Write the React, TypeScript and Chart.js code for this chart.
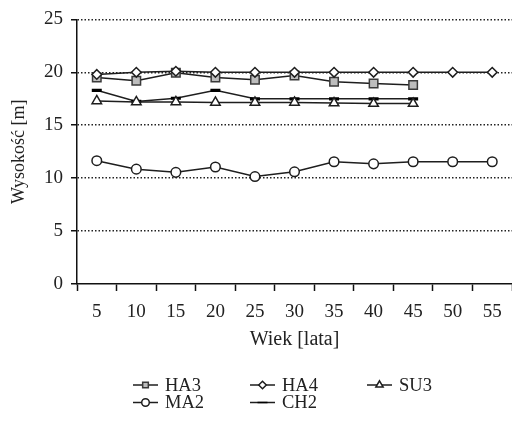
import React, { useEffect, useRef } from 'react';
import { Chart, registerables } from 'chart.js';
import { drawPoint } from 'chart.js/helpers';

Chart.register(...registerables);

const ageLabels = ['5', '10', '15', '20', '25', '30', '35', '40', '45', '50', '55'];
const seriesNames = ['HA3', 'HA4', 'SU3', 'MA2', 'CH2'];
const ha3 = [19.5, 19.2, 19.95, 19.5, 19.3, 19.7, 19.1, 18.95, 18.8];
const ha4 = [19.8, 20, 20.1, 20, 20, 20, 20, 20, 20, 20, 20];
const su3 = [17.3, 17.2, 17.2, 17.15, 17.15, 17.15, 17.1, 17.05, 17.05];
const ma2 = [11.65, 10.85, 10.55, 11.05, 10.15, 10.6, 11.55, 11.35, 11.55, 11.55, 11.55];
const ch2 = [18.3, 17.25, 17.55, 18.3, 17.5, 17.5, 17.5, 17.5, 17.5];

const xTitle = 'Wiek [lata]';
const yTitle = 'Wysokość [m]';

const FONT = "'Liberation Serif', 'Times New Roman', serif";
const TXT = '#222';
const LINE = '#1e1e1e';

const legendPlugin = {
  id: 'gridLegend',
  afterDraw(chart: any) {
    const ctx = chart.ctx;
    const ds = chart.data.datasets;
    const x0 = 133;
    const colW = 117;
    const y0 = 385;
    const rowH = 17.5;
    ctx.save();
    ds.forEach((d: any, i: number) => {
      const col = i % 3;
      const row = Math.floor(i / 3);
      const x = x0 + col * colW;
      const y = y0 + row * rowH;
      ctx.strokeStyle = LINE;
      ctx.lineWidth = 1.5;
      ctx.beginPath();
      ctx.moveTo(x, y);
      ctx.lineTo(x + 25, y);
      ctx.stroke();
      ctx.fillStyle = d.pointBackgroundColor;
      ctx.strokeStyle = d.pointBorderColor;
      drawPoint(ctx, {
        pointStyle: d.pointStyle,
        radius: d.legendRadius,
        borderWidth: d.pointBorderWidth,
        rotation: 0,
      }, x + 12.5, y);
      ctx.fillStyle = TXT;
      ctx.font = `18.5px ${FONT}`;
      ctx.textAlign = 'left';
      ctx.textBaseline = 'middle';
      ctx.fillText(d.label, x + 32, y + 1);
    });
    ctx.restore();
  },
};

export default function App() {
  const ref = useRef<HTMLCanvasElement>(null);
  useEffect(() => {
    if (!ref.current) return;
    const common = {
      borderColor: LINE,
      borderWidth: 1.5,
      pointBorderColor: LINE,
      pointBorderWidth: 1.5,
      tension: 0,
      fill: false,
    };
    const chart = new Chart(ref.current, {
      type: 'line',
      data: {
        labels: ageLabels,
        datasets: [
          { ...common, label: seriesNames[0], data: ha3, pointStyle: 'rect', pointRadius: 6, pointBackgroundColor: '#bdbdbd', pointBorderColor: '#3a3a3a', legendRadius: 4, order: 2 } as any,
          { ...common, label: seriesNames[1], data: ha4, pointStyle: 'rectRot', pointRadius: 4.8, pointBackgroundColor: '#fff', legendRadius: 3.8, order: 0 } as any,
          { ...common, label: seriesNames[2], data: su3, pointStyle: 'triangle', pointRadius: 5.5, pointBackgroundColor: '#fff', legendRadius: 4.2, order: 1 } as any,
          { ...common, label: seriesNames[3], data: ma2, pointStyle: 'circle', pointRadius: 4.8, pointBackgroundColor: '#fff', legendRadius: 3.8, order: 3 } as any,
          { ...common, label: seriesNames[4], data: ch2, pointStyle: 'line', pointRadius: 5, pointBorderWidth: 3.2, pointBackgroundColor: '#000', pointBorderColor: '#000', legendRadius: 5, order: 4 } as any,
        ],
      },
      options: {
        animation: false,
        responsive: false,
        layout: { autoPadding: false, padding: { top: 16, left: 0, right: -3, bottom: 67 } },
        plugins: {
          legend: { display: false },
          tooltip: { enabled: false },
        },
        scales: {
          x: {
            type: 'category',
            offset: true,
            afterFit: (s: any) => { s.height = 70; s.paddingLeft = 0; s.paddingRight = 0; },
            grid: { display: true, drawOnChartArea: false, drawTicks: true, tickLength: 7, tickColor: '#111', tickWidth: 1.5, offset: true },
            border: { display: true, color: '#111', width: 1.5 },
            ticks: { color: TXT, font: { family: FONT, size: 19 }, padding: 10, maxRotation: 0, autoSkip: false },
            title: { display: true, text: xTitle, color: TXT, font: { family: FONT, size: 20 }, padding: { top: 0, bottom: 2 } },
          },
          y: {
            min: 0,
            max: 25,
            afterFit: (s: any) => { s.width = 77; },
            grid: {
              display: true,
              drawOnChartArea: true,
              drawTicks: true,
              tickLength: 6,
              color: (c: any) => (c.tick && c.tick.value === 0 ? 'rgba(0,0,0,0)' : '#222'),
              lineWidth: 1.5,
              tickColor: '#111',
              tickWidth: 1.5,
            },
            border: { display: true, color: '#111', width: 1.5, dash: [1.5, 2] },
            ticks: { stepSize: 5, color: TXT, font: { family: FONT, size: 19 }, padding: 8 },
            title: { display: true, text: yTitle, color: TXT, font: { family: FONT, size: 18 }, padding: { top: 8, bottom: 0 } },
          },
        },
      },
      plugins: [legendPlugin],
    } as any);
    return () => chart.destroy();
  }, []);
  return (
    <div style={{ position: 'absolute', left: 0, top: 0, width: 512, height: 421, background: '#fff' }}>
      <canvas ref={ref} width={512} height={421} />
    </div>
  );
}
